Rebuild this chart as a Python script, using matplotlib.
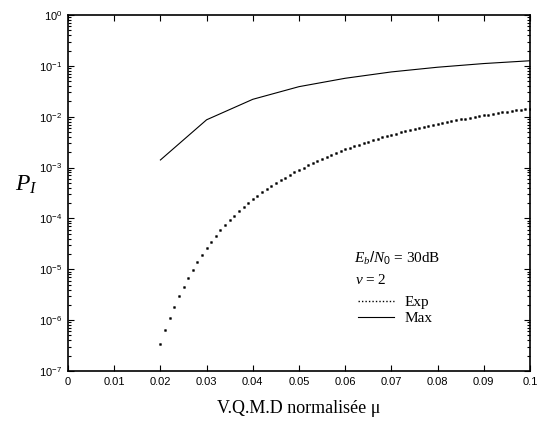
import numpy as np
import matplotlib
matplotlib.use("Agg")
import matplotlib.pyplot as plt
from matplotlib.lines import Line2D
from matplotlib.ticker import FuncFormatter, LogLocator

plt.rcParams['font.family'] = 'Liberation Sans'
plt.rcParams['mathtext.fontset'] = 'custom'
plt.rcParams['mathtext.rm'] = 'Liberation Sans'
plt.rcParams['mathtext.it'] = 'Liberation Serif:italic'

# Max curve: P_I at mu = 0.02 ... 0.1
mu_max = [0.02, 0.03, 0.04, 0.05, 0.06, 0.07, 0.08, 0.09, 0.10]
p_max = [1.41e-3, 8.7e-3, 2.2e-2, 3.9e-2, 5.7e-2, 7.6e-2, 9.4e-2, 0.111, 0.126]

# Exp curve: log10(P_I) every 0.001 from mu = 0.020 to 0.100
mu_exp = np.round(np.arange(0.020, 0.1005, 0.001), 3)
log_p_exp = [
    -6.47, -6.20, -5.96, -5.74, -5.53, -5.34, -5.17, -5.005, -4.853, -4.710,
    -4.578, -4.455, -4.342, -4.235, -4.133, -4.036, -3.944, -3.857, -3.776, -3.699,
    -3.626, -3.556, -3.489, -3.425, -3.364, -3.306, -3.250, -3.196, -3.144, -3.094,
    -3.046, -2.999, -2.953, -2.909, -2.867, -2.827, -2.788, -2.750, -2.713, -2.678,
    -2.644, -2.611, -2.579, -2.548, -2.518, -2.489, -2.461, -2.434, -2.408, -2.382,
    -2.357, -2.333, -2.309, -2.286, -2.264, -2.242, -2.221, -2.200, -2.180, -2.161,
    -2.142, -2.123, -2.105, -2.087, -2.070, -2.053, -2.036, -2.020, -2.004, -1.989,
    -1.974, -1.959, -1.945, -1.931, -1.917, -1.903, -1.890, -1.877, -1.865, -1.852,
    -1.840,
]
p_exp = 10.0 ** np.array(log_p_exp)

fig = plt.figure(figsize=(5.37, 4.26), dpi=100)
ax = fig.add_axes([68 / 537, 1 - 371 / 426, 462 / 537, 356 / 426])

ax.plot(mu_max, p_max, color='black', lw=0.8)
ax.plot(mu_exp, p_exp, ls='none', marker='s', ms=1.25, mec='black', mfc='black', mew=0.4)

ax.set_yscale('log')
ax.set_xlim(0, 0.1)
ax.set_ylim(1e-7, 1)
ax.set_xticks(np.arange(0, 0.1001, 0.01))
ax.xaxis.set_major_formatter(FuncFormatter(lambda v, p: f"{v:g}"))
ax.yaxis.set_major_locator(LogLocator(base=10, numticks=10))
ax.yaxis.set_minor_locator(LogLocator(base=10, subs=np.arange(2, 10), numticks=20))

ax.tick_params(which='both', direction='in', top=True, right=True, width=0.8)
ax.tick_params(which='major', length=4, labelsize=8, pad=4)
ax.tick_params(which='minor', length=2)
for s in ax.spines.values():
    s.set_linewidth(1.2)

ax.set_xlabel('V.Q.M.D normalisée μ', family='Liberation Serif', fontsize=13, labelpad=10)
fig.text(15 / 537, 1 - 185 / 426, r'$P_I$', fontsize=17, va='center', ha='left')

ax.text(0.619, 0.303, r'$E_b/N_\mathit{0}$ = 30dB', transform=ax.transAxes,
        family='Liberation Serif', fontsize=11, va='baseline')
ax.text(0.621, 0.245, r'$\nu$ = 2', transform=ax.transAxes,
        family='Liberation Serif', fontsize=11, va='baseline')

handles = [Line2D([], [], color='black', ls=(0, (1, 1.5)), lw=1.0),
           Line2D([], [], color='black', lw=0.8)]
ax.legend(handles, ['Exp', 'Max'], loc='upper left', bbox_to_anchor=(0.612, 0.233),
          frameon=False, borderpad=0, handlelength=2.3, handletextpad=0.7,
          labelspacing=0.15, prop={'family': 'Liberation Serif', 'size': 11})

fig.savefig('out.png', dpi=100)
